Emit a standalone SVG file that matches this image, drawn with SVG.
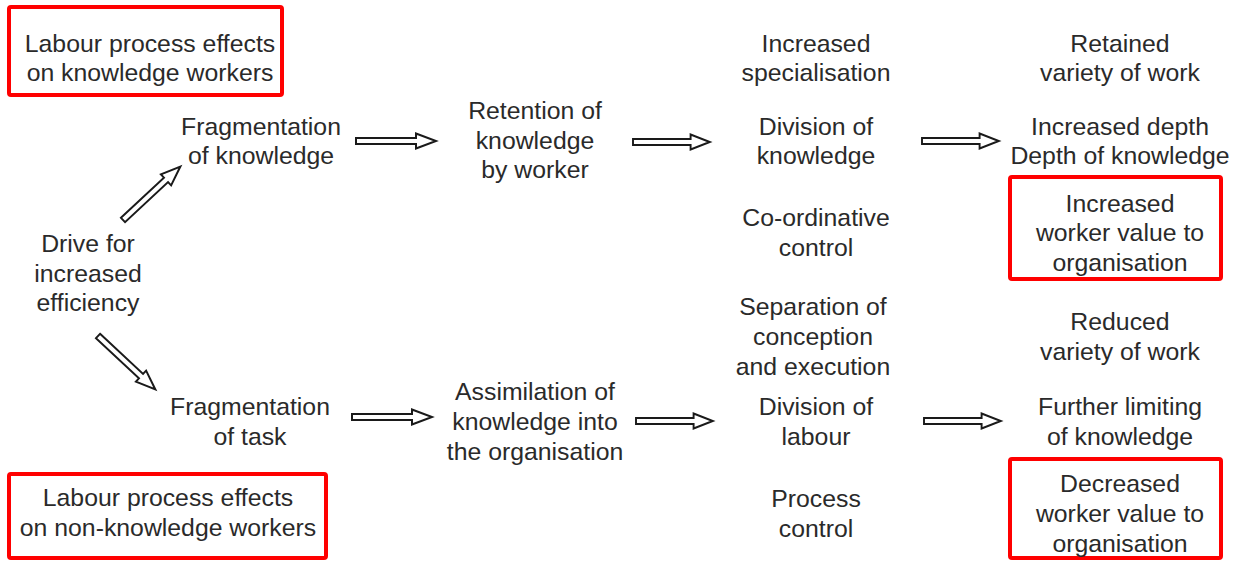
<svg xmlns="http://www.w3.org/2000/svg" xmlns:xlink="http://www.w3.org/1999/xlink" width="1242" height="561" viewBox="0 0 1242 561">
  <style>
    text { font-family: "Liberation Sans", Arial, sans-serif; font-size: 24.8px; fill: #2a2a2a; text-anchor: middle; }
    .frame { fill: none; stroke: #ff0000; stroke-width: 4; }
    .arrow { fill: #ffffff; stroke: #1a1a1a; stroke-width: 2; stroke-linejoin: miter; }
  </style>
  <defs>
    <!-- hollow block arrow, 80 long, pointing right from the origin -->
    <path id="blockArrow" class="arrow" d="M0,-3 L60,-3 L60,-7.5 L80,0 L60,7.5 L60,3 L0,3 Z"/>
  </defs>

  <rect width="1242" height="561" fill="#ffffff"/>

  <!-- connectors -->
  <g id="connectors">
    <use xlink:href="#blockArrow" transform="translate(123,220) rotate(-43) scale(0.98,1)"/>
    <use xlink:href="#blockArrow" transform="translate(98,336) rotate(43) scale(0.98,1)"/>
    <use xlink:href="#blockArrow" transform="translate(356,141)"/>
    <use xlink:href="#blockArrow" transform="translate(633,142) scale(0.96,1)"/>
    <use xlink:href="#blockArrow" transform="translate(922,141) scale(0.96,1)"/>
    <use xlink:href="#blockArrow" transform="translate(352,417)"/>
    <use xlink:href="#blockArrow" transform="translate(636,421) scale(0.96,1)"/>
    <use xlink:href="#blockArrow" transform="translate(924,421) scale(0.96,1)"/>
  </g>

  <!-- highlighted headings -->
  <g id="knowledge-workers">
    <rect class="frame" x="9" y="7" width="273" height="88" rx="2"/>
    <text x="150" y="52">Labour process effects</text>
    <text x="150" y="81">on knowledge workers</text>
  </g>
  <g id="non-knowledge-workers">
    <rect class="frame" x="9" y="474" width="317" height="84" rx="2"/>
    <text x="168" y="506">Labour process effects</text>
    <text x="168" y="536">on non-knowledge workers</text>
  </g>

  <g id="drive">
    <text x="88" y="252">Drive for</text>
    <text x="88" y="282">increased</text>
    <text x="88" y="311">efficiency</text>
  </g>

  <g id="frag-knowledge">
    <text x="261" y="135">Fragmentation</text>
    <text x="261" y="164">of knowledge</text>
  </g>
  <g id="frag-task">
    <text x="250" y="415">Fragmentation</text>
    <text x="250" y="445">of task</text>
  </g>

  <g id="retention">
    <text x="535" y="119">Retention of</text>
    <text x="535" y="149">knowledge</text>
    <text x="535" y="178">by worker</text>
  </g>
  <g id="assimilation">
    <text x="535" y="400">Assimilation of</text>
    <text x="535" y="430">knowledge into</text>
    <text x="535" y="460">the organisation</text>
  </g>

  <g id="specialisation">
    <text x="816" y="52">Increased</text>
    <text x="816" y="81">specialisation</text>
  </g>
  <g id="division-knowledge">
    <text x="816" y="135">Division of</text>
    <text x="816" y="164">knowledge</text>
  </g>
  <g id="coordinative">
    <text x="816" y="226">Co-ordinative</text>
    <text x="816" y="256">control</text>
  </g>
  <g id="separation">
    <text x="813" y="315">Separation of</text>
    <text x="813" y="345">conception</text>
    <text x="813" y="375">and execution</text>
  </g>
  <g id="division-labour">
    <text x="816" y="415">Division of</text>
    <text x="816" y="445">labour</text>
  </g>
  <g id="process-control">
    <text x="816" y="507">Process</text>
    <text x="816" y="537">control</text>
  </g>

  <g id="retained-variety">
    <text x="1120" y="52">Retained</text>
    <text x="1120" y="81">variety of work</text>
  </g>
  <g id="increased-depth">
    <text x="1120" y="135">Increased depth</text>
    <text x="1120" y="164">Depth of knowledge</text>
  </g>
  <g id="increased-value">
    <rect class="frame" x="1010" y="177" width="211" height="102" rx="2"/>
    <text x="1120" y="212">Increased</text>
    <text x="1120" y="241">worker value to</text>
    <text x="1120" y="271">organisation</text>
  </g>
  <g id="reduced-variety">
    <text x="1120" y="330">Reduced</text>
    <text x="1120" y="360">variety of work</text>
  </g>
  <g id="further-limiting">
    <text x="1120" y="415">Further limiting</text>
    <text x="1120" y="445">of knowledge</text>
  </g>
  <g id="decreased-value">
    <rect class="frame" x="1010" y="459" width="211" height="99" rx="2"/>
    <text x="1120" y="492">Decreased</text>
    <text x="1120" y="522">worker value to</text>
    <text x="1120" y="552">organisation</text>
  </g>
</svg>
